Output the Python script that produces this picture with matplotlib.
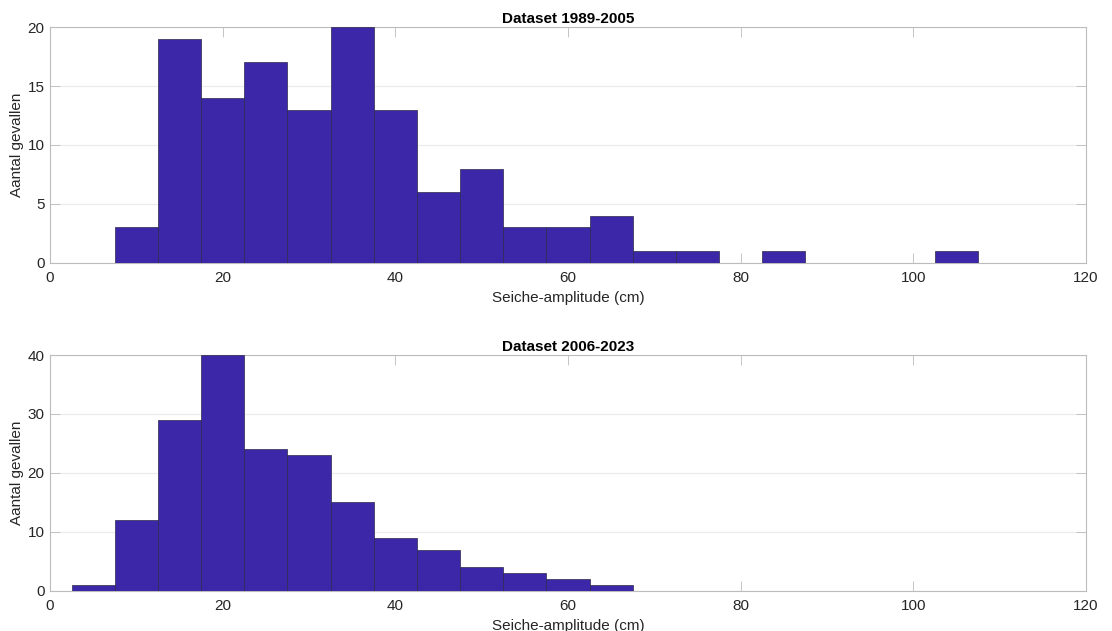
import numpy as np
import matplotlib.pyplot as plt

plt.rcParams['font.family'] = ['Liberation Sans', 'DejaVu Sans']

# bin centres (cm), each bin 5 cm wide
bin_centres = [5, 10, 15, 20, 25, 30, 35, 40, 45, 50, 55, 60, 65, 70,
               75, 80, 85, 90, 95, 100, 105]
counts_1989_2005 = [0, 3, 19, 14, 17, 13, 20, 13, 6, 8, 3, 3, 4, 1,
                    1, 0, 1, 0, 0, 0, 1]
counts_2006_2023 = [1, 12, 29, 40, 24, 23, 15, 9, 7, 4, 3, 2, 1, 0,
                    0, 0, 0, 0, 0, 0, 0]

titles = ['Dataset 1989-2005', 'Dataset 2006-2023']
ylims = [20, 40]
yticks = [[0, 5, 10, 15, 20], [0, 10, 20, 30, 40]]

bar_color = '#3c27a8'
axis_color = '#262626'
spine_color = '#bcbcbc'

fig = plt.figure(figsize=(11.12, 6.31), dpi=100)
ax1 = fig.add_axes([0.045, 0.5835, 0.9317, 0.3735])
ax2 = fig.add_axes([0.045, 0.0634, 0.9317, 0.3740])

for ax, counts, title, ylim, yt in zip([ax1, ax2],
                                      [counts_1989_2005, counts_2006_2023],
                                      titles, ylims, yticks):
    c = np.array(counts)
    x = np.array(bin_centres)
    mask = c > 0
    ax.bar(x[mask], c[mask], width=5, color=bar_color,
           edgecolor='#2a2a4a', linewidth=0.5, zorder=3)
    ax.set_xlim(0, 120)
    ax.set_ylim(0, ylim)
    ax.set_xticks([0, 20, 40, 60, 80, 100, 120])
    ax.set_yticks(yt)
    ax.grid(axis='y', color='#ebebeb', linewidth=0.8, zorder=0)
    ax.set_axisbelow(True)
    ax.tick_params(direction='in', length=7, width=0.6, colors=spine_color,
                   labelcolor=axis_color, labelsize=11, top=True, right=True)
    ax.tick_params(axis='x', pad=6)
    ax.tick_params(axis='y', pad=4)
    for s in ax.spines.values():
        s.set_color(spine_color)
        s.set_linewidth(0.8)
    ax.set_title(title, fontsize=11, fontweight='bold', color='black', pad=3)
    ax.set_xlabel('Seiche-amplitude (cm)', fontsize=11, color=axis_color, labelpad=4)
    ax.set_ylabel('Aantal gevallen', fontsize=11, color=axis_color, labelpad=0)
    ax.yaxis.set_label_coords(-0.025, 0.5)

fig.savefig('out.png', dpi=100)
